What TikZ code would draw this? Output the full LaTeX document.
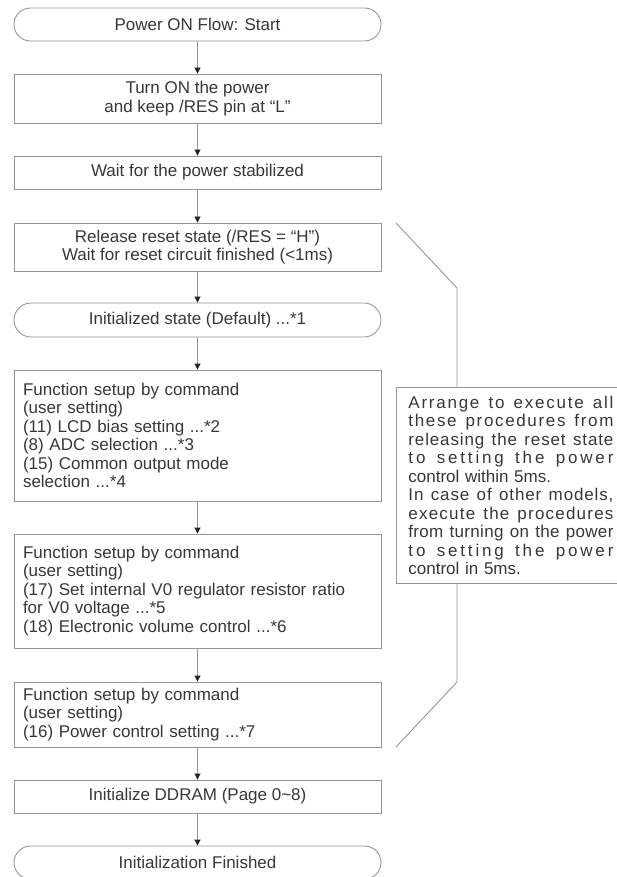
\documentclass[tikz,border=0pt]{standalone}
\usepackage{fontspec}
\setmainfont{Liberation Sans}
\usetikzlibrary{shapes.misc,arrows.meta}
\definecolor{linegray}{RGB}{150,150,150}
\definecolor{txtgray}{RGB}{55,55,55}
\definecolor{tipgray}{RGB}{35,35,35}
% Linea repartida letra por letra en todo el ancho de la nota
\ExplSyntaxOn
\NewDocumentCommand\fullline{m}
  {
    \mode_leave_vertical:
    \hbox_to_wd:nn {205pt} { \str_map_inline:nn {#1} { ##1 \hfil } \unskip }
  }
\ExplSyntaxOff
\begin{document}
\begin{tikzpicture}[x=1pt,y=-1pt]
    \useasboundingbox (0,0) rectangle (617,877);

    % Estilos de los bloques
    \tikzset{
      base/.style={draw=linegray, line width=0.9pt, text=txtgray,
        font=\fontsize{17}{18.5}\selectfont, minimum width=367pt, inner sep=0pt},
      term/.style={base, rounded rectangle, minimum height=33pt},
      proc/.style={base, rectangle, align=center},
      cmdbox/.style={base, rectangle, text width=349pt, inner xsep=9pt, align=left},
      notebox/.style={base, rectangle, minimum width=0pt, text width=205pt,
        inner xsep=12pt, minimum height=196pt, align=left, anchor=north west},
      flow/.style={draw=linegray, line width=0.9pt,
        -{Triangle[length=6pt,width=6pt,color=tipgray]}}
    }

    % Bloques del flujo
    \node[term] (start) at (197.5,24.5) {Power ON Flow: Start};
    \node[proc, minimum height=49pt] (pwron) at (197.5,98.5)
      {Turn ON the power\\and keep /RES pin at “L”};
    \node[proc, minimum height=33pt] (stable) at (197.5,172.5)
      {Wait for the power stabilized};
    \node[proc, minimum height=48pt] (release) at (197.5,247)
      {Release reset state (/RES = “H”)\\Wait for reset circuit finished (<1ms)};
    \node[term, minimum height=34pt] (init) at (197.5,320)
      {Initialized state (Default) ...*1};
    \node[cmdbox, minimum height=131pt] (setupa) at (197.5,435.5)
      {Function setup by command\\(user setting)\\(11) LCD bias setting ...*2\\
       (8) ADC selection ...*3\\(15) Common output mode\\selection ...*4};
    \node[cmdbox, minimum height=114pt] (setupb) at (197.5,591)
      {Function setup by command\\(user setting)\\
       (17) Set internal V0 regulator resistor ratio\\for V0 voltage ...*5\\
       (18) Electronic volume control ...*6};
    \node[cmdbox, minimum height=65pt] (setupc) at (197.5,714.5)
      {Function setup by command\\(user setting)\\(16) Power control setting ...*7};
    \node[proc, minimum height=33pt] (ddram) at (197.5,796.5)
      {Initialize DDRAM (Page 0\textasciitilde 8)};
    \node[term] (finish) at (197.5,862.5) {Initialization Finished};

    % Flechas
    \draw[flow] (start) -- (pwron);
    \draw[flow] (pwron) -- (stable);
    \draw[flow] (stable) -- (release);
    \draw[flow] (release) -- (init);
    \draw[flow] (init) -- (setupa);
    \draw[flow] (setupa) -- (setupb);
    \draw[flow] (setupb) -- (setupc);
    \draw[flow] (setupc) -- (ddram);
    \draw[flow] (ddram) -- (finish);

    % Nota lateral
    \node[notebox] (note) at (396,387)
      {\fullline{Arrange to execute all}\\
       \fullline{these procedures from}\\
       \fullline{releasing the reset state}\\
       \fullline{to setting the power}\\
       control within 5ms.\\
       \fullline{In case of other models,}\\
       \fullline{execute the procedures}\\
       \fullline{from turning on the power}\\
       \fullline{to setting the power}\\
       control in 5ms.};

    % Corchete
    \coordinate (brtop) at (396,223);
    \coordinate (bendtop) at (457,288);
    \coordinate (bendbot) at (457,682);
    \coordinate (brbot) at (396,747);
    \draw[linegray, line width=0.9pt] (brtop) -- (bendtop) -- (bendtop |- note.north);
    \draw[linegray, line width=0.9pt] (bendbot |- note.south) -- (bendbot) -- (brbot);
  \end{tikzpicture}
\end{document}
